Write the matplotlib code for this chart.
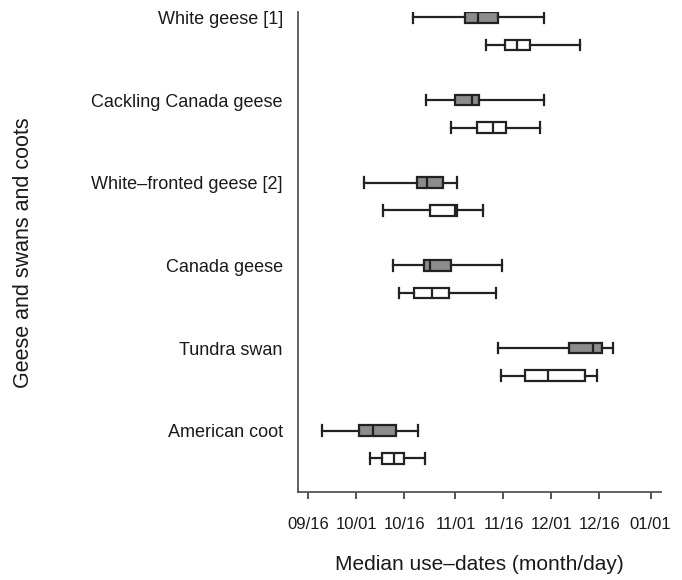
import matplotlib
matplotlib.use('Agg')
import matplotlib.pyplot as plt
import numpy as np

plt.rcParams['font.family'] = ['Liberation Sans', 'DejaVu Sans']

# species (top to bottom)
species = ['White geese [1]', 'Cackling Canada geese', 'White\u2013fronted geese [2]',
           'Canada geese', 'Tundra swan', 'American coot']

# values in days after 09/16: whisker low, q1, median, q3, whisker high
grey_lo  = [32.6, 36.8, 17.4, 26.6, 59.4, 4.2]
grey_q1  = [49.0, 45.8, 33.9, 36.3, 81.6, 15.9]
grey_med = [53.1, 51.1, 37.0, 38.0, 88.9, 20.3]
grey_q3  = [59.4, 53.3, 42.2, 44.6, 91.9, 27.4]
grey_hi  = [73.8, 73.8, 46.6, 60.4, 95.3, 34.2]

white_lo  = [55.7, 44.6, 23.4, 28.4, 60.2, 19.3]
white_q1  = [61.5, 52.8, 38.2, 33.0, 67.7, 22.9]
white_med = [65.1, 57.8, 45.8, 38.6, 75.0, 26.9]
white_q3  = [69.3, 61.8, 46.6, 44.1, 86.4, 29.9]
white_hi  = [84.9, 72.4, 54.5, 58.6, 90.3, 36.5]

tick_labels = ['09/16', '10/01', '10/16', '11/01', '11/16', '12/01', '12/16', '01/01']
tick_days = [0, 15, 30, 46, 61, 76, 91, 107]


def stats(lo, q1, med, q3, hi):
    return [dict(whislo=a, q1=b, med=c, q3=d, whishi=e, fliers=[])
            for a, b, c, d, e in zip(lo, q1, med, q3, hi)]


fig = plt.figure(figsize=(6.82, 5.8), dpi=100)
ax = fig.add_axes([0.437, 0.152, 0.532, 0.827])

pos = np.arange(len(species))
ink = '#222222'
lw = 1.6
common = dict(orientation='horizontal', widths=0.13, capwidths=0.13,
              patch_artist=True, showfliers=False,
              whiskerprops=dict(color=ink, lw=lw), capprops=dict(color=ink, lw=lw),
              medianprops=dict(color=ink, lw=lw))

ax.bxp(stats(grey_lo, grey_q1, grey_med, grey_q3, grey_hi), positions=pos,
       boxprops=dict(facecolor='#8c8c8c', edgecolor=ink, lw=lw), **common)
ax.bxp(stats(white_lo, white_q1, white_med, white_q3, white_hi), positions=pos + 0.333,
       boxprops=dict(facecolor='white', edgecolor=ink, lw=lw), **common)

ax.set_ylim(5.74, -0.064)
ax.set_xlim(-3.2, 110.2)
ax.set_yticks(pos)
ax.set_yticklabels(species, fontsize=13, color='#1a1a1a')
ax.tick_params(axis='y', length=0, pad=11)
ax.set_xticks(tick_days)
ax.set_xticklabels(tick_labels, fontsize=12, color='#1a1a1a')
ax.tick_params(axis='x', direction='out', length=5, width=1.3, color='#444444', pad=13)

for s in ['top', 'right']:
    ax.spines[s].set_visible(False)
for s in ['left', 'bottom']:
    ax.spines[s].set_color('#555555')
    ax.spines[s].set_linewidth(1.3)

fig.text(0.035, 0.564, 'Geese and swans and coots', rotation=90, fontsize=15.5,
         ha='center', va='center', color='#1a1a1a')
fig.text(0.703, 0.026, 'Median use\u2013dates (month/day)', fontsize=15,
         ha='center', va='center', color='#1a1a1a')

fig.savefig('out.png', dpi=100)
